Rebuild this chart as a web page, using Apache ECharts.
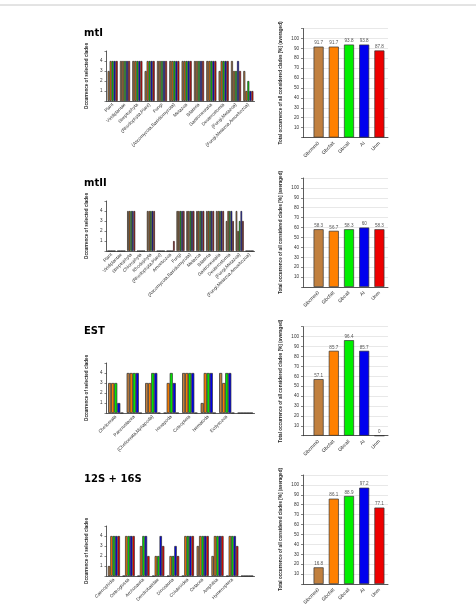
<!DOCTYPE html>
<html><head><meta charset="utf-8">
<script src="https://cdn.jsdelivr.net/npm/echarts@6/dist/echarts.min.js"></script>
<style>html,body{margin:0;padding:0;background:#fff}#c{width:476px;height:613px}</style>
</head><body><div id="c"></div>
<script>
// ---------- data ----------
const methods = ['Gbcmm0','Gbcfalt','Gbcall','AI','Unm'];

const mtI_cats = ['Plant','Viridiplantae','Streptophyta','(Rhodophyta,Plant)','Fungi','(Ascomycota,Basidiomycota)','Metazoa','Bilateria','Gastroneuralia','Deuterostomia','(Fungi,Metazoa)','(Fungi,Metazoa,Amoebozoa)'];
const mtI_brown  = [3,4,4,3,4,4,4,4,4,3,4,3];
const mtI_orange = [4,4,4,4,4,4,4,4,4,4,3,1];
const mtI_green  = [4,4,4,4,4,4,4,4,4,4,3,2];
const mtI_blue   = [4,4,4,4,4,4,4,4,4,4,4,1];
const mtI_red    = [4,4,4,4,4,4,4,4,4,4,3,1];
const mtI_total  = [91.7,91.7,93.8,93.8,87.8];

const mtII_cats = ['Plant','Viridiplantae','Streptophyta','Chlorophyta','Rhodophyta','(Rhodophyta,Plant)','Amoebozoa','Fungi','(Ascomycota,Basidiomycota)','Metazoa','Bilateria','Gastroneuralia','Deuterostomia','(Fungi,Metazoa)','(Fungi,Metazoa,Amoebozoa)'];
const mtII_brown  = [0,0,4,0,4,0,0,4,4,4,4,4,3,4,0];
const mtII_orange = [0,0,4,0,4,0,0,4,4,4,4,4,4,2,0];
const mtII_green  = [0,0,4,0,4,0,0,4,4,4,4,4,4,3,0];
const mtII_blue   = [0,0,4,0,4,0,0,4,4,4,4,4,4,4,0];
const mtII_red    = [0,0,4,0,4,0,1,4,4,4,4,4,3,3,0];
const mtII_total  = [58.3,56.7,58.3,60,58.3];

const EST_cats = ['Chelicerata','Pancrustacea','(Chelicerata,Myriapoda)','Hexapoda','Coleoptera','Nematoda','Ecdysozoa',''];
const EST_brown  = [3,4,3,0,4,1,4,0];
const EST_orange = [3,4,3,3,4,4,3,0];
const EST_green  = [3,4,4,4,4,4,4,0];
const EST_blue   = [1,4,4,3,4,4,4,0];
const EST_red    = [0,0,0,0,0,0,0,0];
const EST_total  = [57.1,85.7,96.4,85.7,0];

const rS_cats = ['Caenophidia','Osteoglossa','Archosauria','Dendrobatidae','Dinosauria','Colubroidea','Cetacea','Amphibia','Hymenoptera',''];
const rS_brown  = [1,0,0,0,0,0,3,2,0,0];
const rS_orange = [4,4,3,2,2,4,4,4,4,0];
const rS_green  = [4,4,4,2,2,4,4,4,4,0];
const rS_blue   = [4,4,4,4,3,4,4,4,4,0];
const rS_red    = [4,4,2,3,2,4,4,4,3,0];
const rS_total  = [16.8,86.1,88.9,97.2,77.1];

// ---------- styling / layout ----------
const colors = ['#c1803f','#ff8000','#00ee00','#0000ee','#ee0000'];
const panels = [
  {title:'mtI', cats:mtI_cats, vals:[mtI_brown,mtI_orange,mtI_green,mtI_blue,mtI_red], total:mtI_total, lt:51, rt:28.5, ty:28},
  {title:'mtII', cats:mtII_cats, vals:[mtII_brown,mtII_orange,mtII_green,mtII_blue,mtII_red], total:mtII_total, lt:201, rt:178, ty:178},
  {title:'EST', cats:EST_cats, vals:[EST_brown,EST_orange,EST_green,EST_blue,EST_red], total:EST_total, lt:363, rt:326.7, ty:326},
  {title:'12S + 16S', cats:rS_cats, vals:[rS_brown,rS_orange,rS_green,rS_blue,rS_red], total:rS_total, lt:526, rt:475, ty:474}
];
const FF = 'Liberation Sans, Arial, sans-serif';

const grid=[], xAxis=[], yAxis=[], series=[], title=[];
panels.forEach((p,pi)=>{
  title.push({text:p.title,left:84,top:p.ty,padding:0,textStyle:{fontFamily:'DejaVu Sans',fontWeight:'bold',fontSize:10,color:'#000'}});
  // left grouped chart
  const gL = grid.length;
  grid.push({left:106.5,top:p.lt,width:148,height:50,containLabel:false});
  xAxis.push({type:'category',gridIndex:gL,data:p.cats,
    axisLine:{lineStyle:{color:'#333',width:0.8}},axisTick:{show:false},
    axisLabel:{rotate:45,fontSize:4.6,color:'#333',fontFamily:FF,interval:0,margin:3}});
  yAxis.push({type:'value',gridIndex:gL,min:0,max:5,interval:1,
    name:'Occurrence of selected clades',nameLocation:'middle',nameGap:17,nameRotate:90,
    nameTextStyle:{fontSize:4.6,fontWeight:'bold',color:'#222',fontFamily:FF},
    axisLine:{show:true,lineStyle:{color:'#333',width:0.8}},axisTick:{show:true,length:2,lineStyle:{color:'#333',width:0.6}},splitLine:{show:false},
    axisLabel:{fontSize:4.6,color:'#333',fontFamily:FF,margin:4,formatter:v=>(v===0||v===5)?'':String(v)}});
  p.vals.forEach((arr,si)=>{
    series.push({type:'bar',xAxisIndex:gL,yAxisIndex:gL,data:arr,barGap:'0%',barCategoryGap:'18%',
      itemStyle:{color:colors[si],borderColor:'#2a2a2a',borderWidth:0.7},silent:true,animation:false});
  });
  // right frame grid (axes)
  const gF = grid.length;
  grid.push({left:303,top:p.rt,width:85,height:109});
  xAxis.push({type:'value',gridIndex:gF,min:0,max:1,axisLine:{show:true,onZero:false,lineStyle:{color:'#333',width:0.8}},
    axisTick:{show:false},axisLabel:{show:false},splitLine:{show:false}});
  yAxis.push({type:'value',gridIndex:gF,min:0,max:110,interval:10,
    name:'Total occurrence of all considered clades [%] (averaged)',nameLocation:'middle',nameGap:20,nameRotate:90,
    nameTextStyle:{fontSize:4.6,fontWeight:'bold',color:'#222',fontFamily:FF},
    axisLine:{show:true,lineStyle:{color:'#333',width:0.8}},axisTick:{show:true,length:2,lineStyle:{color:'#333',width:0.6}},
    splitLine:{show:true,lineStyle:{color:'#d8d8d8',width:0.6}},
    axisLabel:{fontSize:4.6,color:'#333',fontFamily:FF,margin:4,formatter:v=>(v===0||v===110)?'':String(v)}});
  // right bars grid
  const gB = grid.length;
  grid.push({left:311,top:p.rt,width:76,height:109});
  xAxis.push({type:'category',gridIndex:gB,data:methods,axisLine:{show:false},axisTick:{show:false},
    axisLabel:{rotate:45,fontSize:5,color:'#333',fontFamily:FF,interval:0,margin:5}});
  yAxis.push({type:'value',gridIndex:gB,min:0,max:110,show:false,splitLine:{show:false}});
  series.push({type:'bar',xAxisIndex:gB,yAxisIndex:gB,barWidth:'66%',animation:false,silent:true,
    data:p.total.map((v,i)=>({value:v,itemStyle:{color:colors[i],borderColor:'#333',borderWidth:0.7}})),
    label:{show:true,position:'top',distance:1,fontSize:4.6,color:'#555',fontFamily:FF,formatter:d=>String(d.value)}});
});

const chart = echarts.init(document.getElementById('c'),null,{renderer:'canvas'});
chart.setOption({
  animation:false,
  title:title,
  grid:grid,xAxis:xAxis,yAxis:yAxis,series:series,
  graphic:[{type:'line',shape:{x1:0,y1:5,x2:476,y2:5},style:{stroke:'#c8c8c8',lineWidth:1}}]
});
</script></body></html>
